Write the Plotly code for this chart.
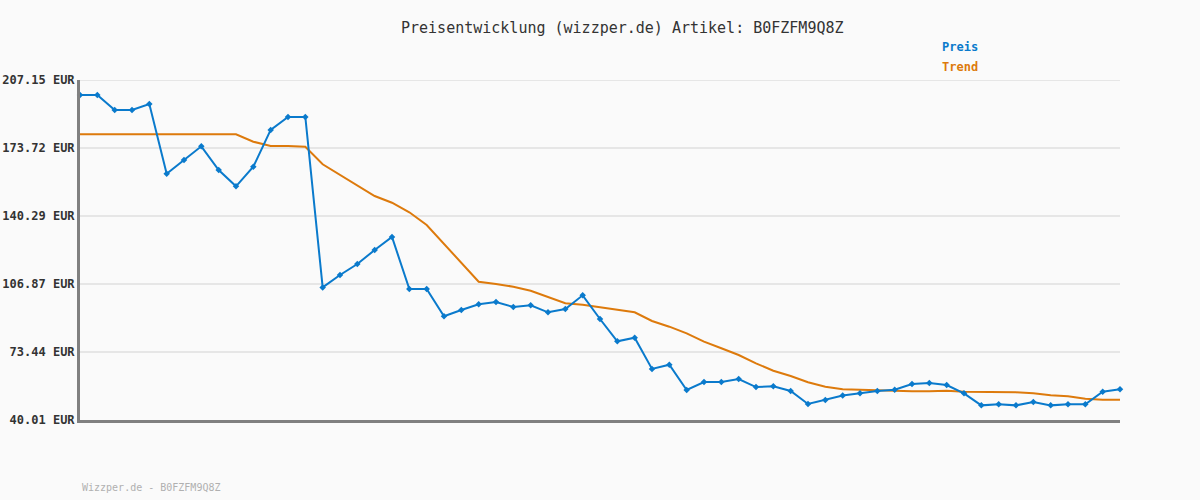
import plotly.graph_objects as go

title_text = "Preisentwicklung (wizzper.de) Artikel: B0FZFM9Q8Z"
footer_text = "Wizzper.de - B0FZFM9Q8Z"

preis = [199.78, 199.78, 192.4, 192.4, 195.35, 161.1, 167.8, 174.55, 162.9, 154.9,
         164.5, 182.6, 188.96, 188.96, 105.2, 111.3, 116.7, 123.6, 129.97, 104.4,
         104.4, 91.0, 94.1, 96.9, 98.0, 95.56, 96.4, 92.95, 94.6, 101.3,
         89.66, 78.7, 80.47, 65.1, 67.2, 54.76, 58.7, 58.7, 60.16, 56.2,
         56.6, 54.26, 47.87, 49.8, 52.1, 53.2, 54.26, 54.9, 57.7, 58.2,
         57.2, 53.1, 47.2, 47.7, 47.2, 48.86, 47.2, 47.7, 47.7, 53.9, 55.1]

trend = [180.46, 180.46, 180.46, 180.46, 180.46, 180.46, 180.46, 180.46, 180.46, 180.46,
         176.82, 174.7, 174.7, 174.36, 165.71, 160.45, 155.04, 150.13, 146.83, 142.11,
         135.87, 126.53, 117.19, 107.99, 106.87, 105.54, 103.57, 100.62, 97.38, 96.69,
         95.41, 94.43, 92.95, 88.68, 85.88, 82.63, 78.5, 75.26, 71.96, 67.88,
         64.24, 61.64, 58.54, 56.38, 55.1, 54.9, 54.6, 54.26, 54.11, 54.11,
         54.4, 53.92, 53.92, 53.92, 53.63, 53.13, 52.15, 51.66, 50.48, 49.99, 49.99]

y_ticks = [40.01, 73.44, 106.87, 140.29, 173.72, 207.15]
y_tick_labels = [f"{v:.2f} EUR" for v in y_ticks]

idx = list(range(len(preis)))

BLUE = "#0a7acc"
ORANGE = "#dd7a0c"
GRID = "#e6e6e6"
MONO = "DejaVu Sans Mono"

fig = go.Figure()
fig.add_trace(go.Scatter(x=idx, y=trend, mode="lines", name="Trend",
                         line=dict(color=ORANGE, width=2), cliponaxis=False))
fig.add_trace(go.Scatter(x=idx, y=preis, mode="lines+markers", name="Preis",
                         line=dict(color=BLUE, width=2),
                         marker=dict(symbol="diamond", size=5, color=BLUE),
                         cliponaxis=False))

# top gridline at the highest tick (plotly skips gridlines on the range edge)
fig.add_shape(type="line", xref="paper", yref="y", x0=0, x1=1,
              y0=y_ticks[-1], y1=y_ticks[-1], line=dict(color=GRID, width=2),
              layer="below")

fig.update_layout(
    width=1200, height=500,
    margin=dict(l=80, r=80, t=80, b=80),
    paper_bgcolor="#fafafa", plot_bgcolor="#fafafa",
    showlegend=False,
    xaxis=dict(range=[0, len(preis) - 1], showgrid=False, zeroline=False,
               showticklabels=False, ticks="", showline=True,
               linecolor="#808080", linewidth=3, automargin=False),
    yaxis=dict(range=[y_ticks[0], y_ticks[-1]], tickvals=y_ticks,
               ticktext=y_tick_labels, showgrid=True, gridcolor=GRID,
               gridwidth=2, zeroline=False, showline=True, linecolor="#808080",
               linewidth=3, ticks="", automargin=False, ticklabelstandoff=0,
               tickfont=dict(family=MONO, size=12, color="#333333", weight="bold")),
    annotations=[
        dict(text=title_text, xref="paper", yref="paper", x=0.522, y=1.0,
             yshift=52, xanchor="center", yanchor="middle", showarrow=False,
             font=dict(family=MONO, size=15, color="#333333")),
        dict(text="Preis", xref="paper", yref="paper", x=(940 - 80) / 1040, y=1.0,
             yshift=33, xanchor="left", yanchor="middle", showarrow=False,
             font=dict(family=MONO, size=12, color=BLUE, weight="bold")),
        dict(text="Trend", xref="paper", yref="paper", x=(940 - 80) / 1040, y=1.0,
             yshift=13, xanchor="left", yanchor="middle", showarrow=False,
             font=dict(family=MONO, size=12, color=ORANGE, weight="bold")),
        dict(text=footer_text, xref="paper", yref="paper", x=0, y=0,
             yshift=-67, xanchor="left", yanchor="middle", showarrow=False,
             font=dict(family=MONO, size=10, color="#b0b0b0")),
    ],
)

fig.write_html("out.html",
               config={"displayModeBar": False},
               post_script="document.body.style.margin='0';"
                           "document.body.style.background='#fafafa';")
